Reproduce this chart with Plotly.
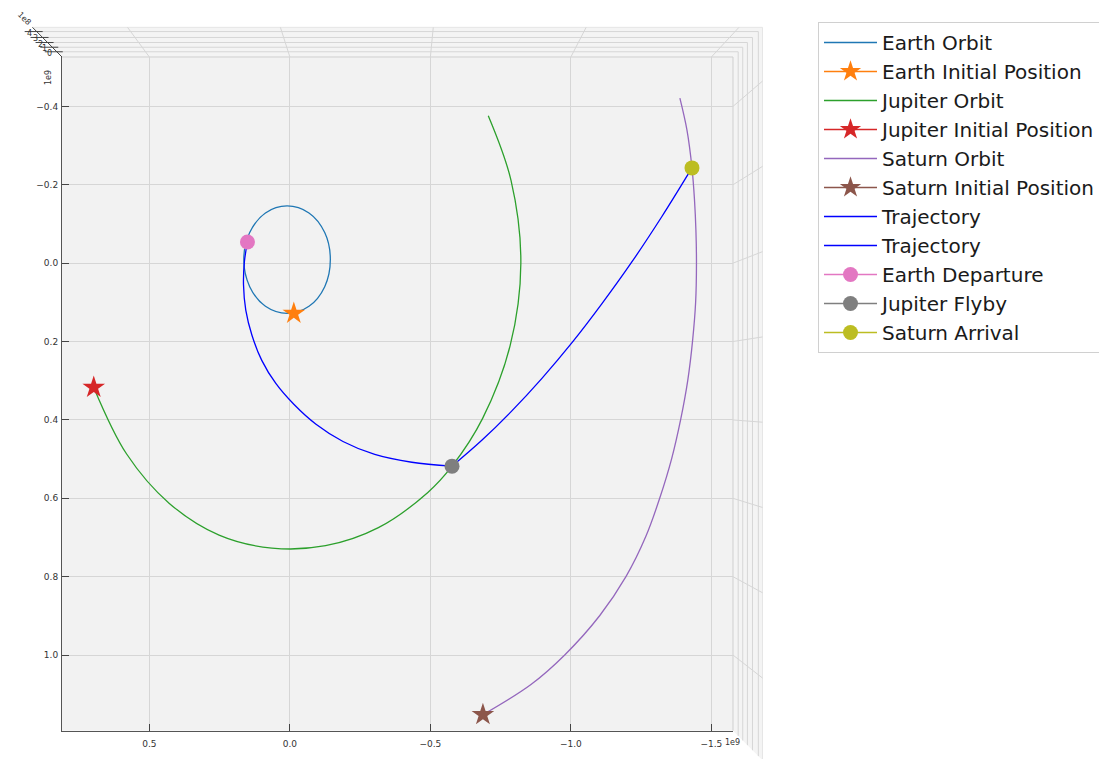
import plotly.graph_objects as go

W, H = 1099, 759

# Heliocentric positions in the ecliptic plane, units of 1e9 km
earth_orbit_x = [0.164, 0.143, 0.087, 0.010, -0.068, -0.124, -0.144, -0.124, -0.068, 0.010, 0.087, 0.143, 0.164]
earth_orbit_y = [-0.009, 0.060, 0.110, 0.128, 0.110, 0.060, -0.009, -0.078, -0.128, -0.146, -0.128, -0.078, -0.009]

jupiter_orbit_x = [0.698, 0.581, 0.429, 0.252, 0.064, -0.127, -0.315, -0.491, -0.577, -0.686, -0.784, -0.822, -0.787, -0.706]
jupiter_orbit_y = [0.317, 0.487, 0.613, 0.694, 0.727, 0.721, 0.675, 0.585, 0.518, 0.396, 0.210, 0.000, -0.211, -0.376]

saturn_orbit_x = [-0.687, -0.858, -0.979, -1.103, -1.196, -1.267, -1.317, -1.359, -1.391, -1.416,
                  -1.433, -1.444, -1.447, -1.445, -1.440, -1.431, -1.413, -1.388]
saturn_orbit_y = [1.152, 1.075, 0.999, 0.899, 0.800, 0.697, 0.598, 0.498, 0.398, 0.299,
                  0.199, 0.100, 0.000, -0.084, -0.161, -0.243, -0.340, -0.421]

earth_init = (-0.014, 0.128)
jupiter_init = (0.698, 0.317)
saturn_init = (-0.687, 1.152)

# Transfer arcs: Earth -> Jupiter, Jupiter -> Saturn
traj1_x = [0.151, 0.162, 0.165, 0.157, 0.135, 0.100, 0.050, -0.014, -0.093, -0.189, -0.302, -0.434, -0.577]
traj1_y = [-0.054, -0.003, 0.056, 0.120, 0.184, 0.248, 0.307, 0.360, 0.411, 0.455, 0.488, 0.508, 0.518]
traj2_x = [-0.577, -0.683, -0.790, -0.897, -1.004, -1.110, -1.217, -1.324, -1.431]
traj2_y = [0.518, 0.452, 0.377, 0.294, 0.203, 0.104, -0.003, -0.119, -0.243]

earth_departure = (0.151, -0.054)
jupiter_flyby = (-0.577, 0.518)
saturn_arrival = (-1.431, -0.243)

x_ticks = [0.5, 0.0, -0.5, -1.0, -1.5]
x_ticktext = ["0.5", "0.0", "\u22120.5", "\u22121.0", "\u22121.5"]
y_ticks = [-0.4, -0.2, 0.0, 0.2, 0.4, 0.6, 0.8, 1.0]
y_ticktext = ["\u22120.4", "\u22120.2", "0.0", "0.2", "0.4", "0.6", "0.8", "1.0"]
z_ticktext = ["4", "3", "2", "1", "0"]

FONT = "DejaVu Sans"
X_RANGE = [0.811, -1.577]
Y_RANGE = [1.193, -0.526]          # bottom, top
L, R, T, B = 62, 733, 57, 730.7    # plot box in pixels

fig = go.Figure()

def line_trace(x, y, name, color):
    fig.add_trace(go.Scatter(x=x, y=y, mode="lines", name=name,
                             line=dict(color=color, width=1.3, shape="spline", smoothing=1.0)))

def point_trace(p, name, color, symbol, size):
    fig.add_trace(go.Scatter(x=[p[0]], y=[p[1]], mode="lines+markers", name=name,
                             line=dict(color=color, width=1.3),
                             marker=dict(color=color, symbol=symbol, size=size, line=dict(width=0))))

line_trace(earth_orbit_x, earth_orbit_y, "Earth Orbit", "#1f77b4")
point_trace(earth_init, "Earth Initial Position", "#ff7f0e", "star", 17)
line_trace(jupiter_orbit_x, jupiter_orbit_y, "Jupiter Orbit", "#2ca02c")
point_trace(jupiter_init, "Jupiter Initial Position", "#d62728", "star", 17)
line_trace(saturn_orbit_x, saturn_orbit_y, "Saturn Orbit", "#9467bd")
point_trace(saturn_init, "Saturn Initial Position", "#8c564b", "star", 17)
line_trace(traj1_x, traj1_y, "Trajectory", "blue")
line_trace(traj2_x, traj2_y, "Trajectory", "blue")
point_trace(earth_departure, "Earth Departure", "#e377c2", "circle", 15)
point_trace(jupiter_flyby, "Jupiter Flyby", "#7f7f7f", "circle", 15)
point_trace(saturn_arrival, "Saturn Arrival", "#bcbd22", "circle", 15)

# ---- pixel helpers for the 3D-style pane frame ----
def xpix(v):
    return L + (v - X_RANGE[0]) / (X_RANGE[1] - X_RANGE[0]) * (R - L)

def ypix(v):
    return T + (v - Y_RANGE[1]) / (Y_RANGE[0] - Y_RANGE[1]) * (B - T)

def P(px, py):
    return px / W, 1 - py / H

CX, CY = (L + R) / 2, (T + B) / 2
OUTER = 1.088
ZGRID = [1.0755, 1.058, 1.043, 1.029, 1.0155]

def scaled(px, py, s):
    return CX + (px - CX) * s, CY + (py - CY) * s

def path(points):
    parts = []
    for i, (px, py) in enumerate(points):
        xp, yp = P(px, py)
        parts.append(("M" if i == 0 else "L") + f"{xp:.5f},{yp:.5f}")
    return " ".join(parts)

shapes = []
# side panes (top wall and right wall)
ol, ot = scaled(L, T, OUTER)
orr, ob = scaled(R, B, OUTER)
shapes.append(dict(type="path", xref="paper", yref="paper", layer="below",
                   path=path([(ol, ot), (orr, ot), (orr, ob), (R, B), (R, T), (L, T)]) + " Z",
                   fillcolor="#f4f4f4", line=dict(width=0)))

def frame_level(s, color, width):
    a = scaled(L, T, s)
    b = scaled(R, T, s)
    c = scaled(R, B, s)
    shapes.append(dict(type="path", xref="paper", yref="paper", layer="below",
                       path=path([a, b, c]), line=dict(color=color, width=width)))

frame_level(OUTER, "#e6e6e6", 1)
for s in ZGRID:
    frame_level(s, "#d6d6d6", 1)
frame_level(1.0, "#cfcfcf", 1)

# grid lines continuing across the side panes
for v in x_ticks:
    x0 = xpix(v)
    x1, y1 = scaled(x0, T, OUTER)
    shapes.append(dict(type="path", xref="paper", yref="paper", layer="below",
                       path=path([(x0, T), (x1, y1)]), line=dict(color="#d6d6d6", width=1)))
for v in y_ticks:
    y0 = ypix(v)
    x1, y1 = scaled(R, y0, OUTER)
    shapes.append(dict(type="path", xref="paper", yref="paper", layer="below",
                       path=path([(R, y0), (x1, y1)]), line=dict(color="#d6d6d6", width=1)))

# vertical (z) axis seen end-on at the top-left corner
shapes.append(dict(type="path", xref="paper", yref="paper",
                   path=path([(L, T), scaled(L, T, OUTER)]), line=dict(color="#444444", width=1)))
annotations = []
for s, lab in zip(ZGRID, z_ticktext):
    zx, zy = scaled(L, T, s)
    shapes.append(dict(type="path", xref="paper", yref="paper",
                       path=path([(zx - 12, zy), (zx + 6, zy)]), line=dict(color="#444444", width=1)))
    ax, ay = P(zx - 12, zy - 5)
    annotations.append(dict(x=ax, y=ay, xref="paper", yref="paper", text=lab, showarrow=False,
                            font=dict(family=FONT, size=8, color="#333333")))

def offset_label(px, py, text, angle=0):
    ax, ay = P(px, py)
    annotations.append(dict(x=ax, y=ay, xref="paper", yref="paper", text=text, showarrow=False,
                            textangle=angle, font=dict(family=FONT, size=8, color="#333333")))

offset_label(13, 7, "1e8", 45)
offset_label(42, 68, "1e9", -90)
offset_label(742, 749, "1e9")

axis_common = dict(showgrid=True, gridcolor="#d6d6d6", gridwidth=1, zeroline=False,
                   showline=True, linecolor="#555555", linewidth=1,
                   ticks="inside", ticklen=7, tickcolor="#444444", tickwidth=1,
                   tickfont=dict(family=FONT, size=9, color="#333333"))

fig.update_layout(
    width=W, height=H,
    margin=dict(l=0, r=0, t=0, b=0, autoexpand=False),
    paper_bgcolor="white",
    plot_bgcolor="#f2f2f2",
    font=dict(family=FONT),
    xaxis=dict(domain=[L / W, R / W], range=X_RANGE, tickvals=x_ticks, ticktext=x_ticktext,
               ticklabelstandoff=4, **axis_common),
    yaxis=dict(domain=[1 - B / H, 1 - T / H], range=Y_RANGE, tickvals=y_ticks, ticktext=y_ticktext,
               ticklabelstandoff=1, **axis_common),
    legend=dict(x=818 / W, y=1 - 22 / H, xanchor="left", yanchor="top",
                font=dict(family=FONT, size=20, color="#1a1a1a"),
                bgcolor="white", bordercolor="#d0d0d0", borderwidth=1,
                itemwidth=53),
    shapes=shapes,
    annotations=annotations,
    showlegend=True,
)

fig.write_html("out.html")
